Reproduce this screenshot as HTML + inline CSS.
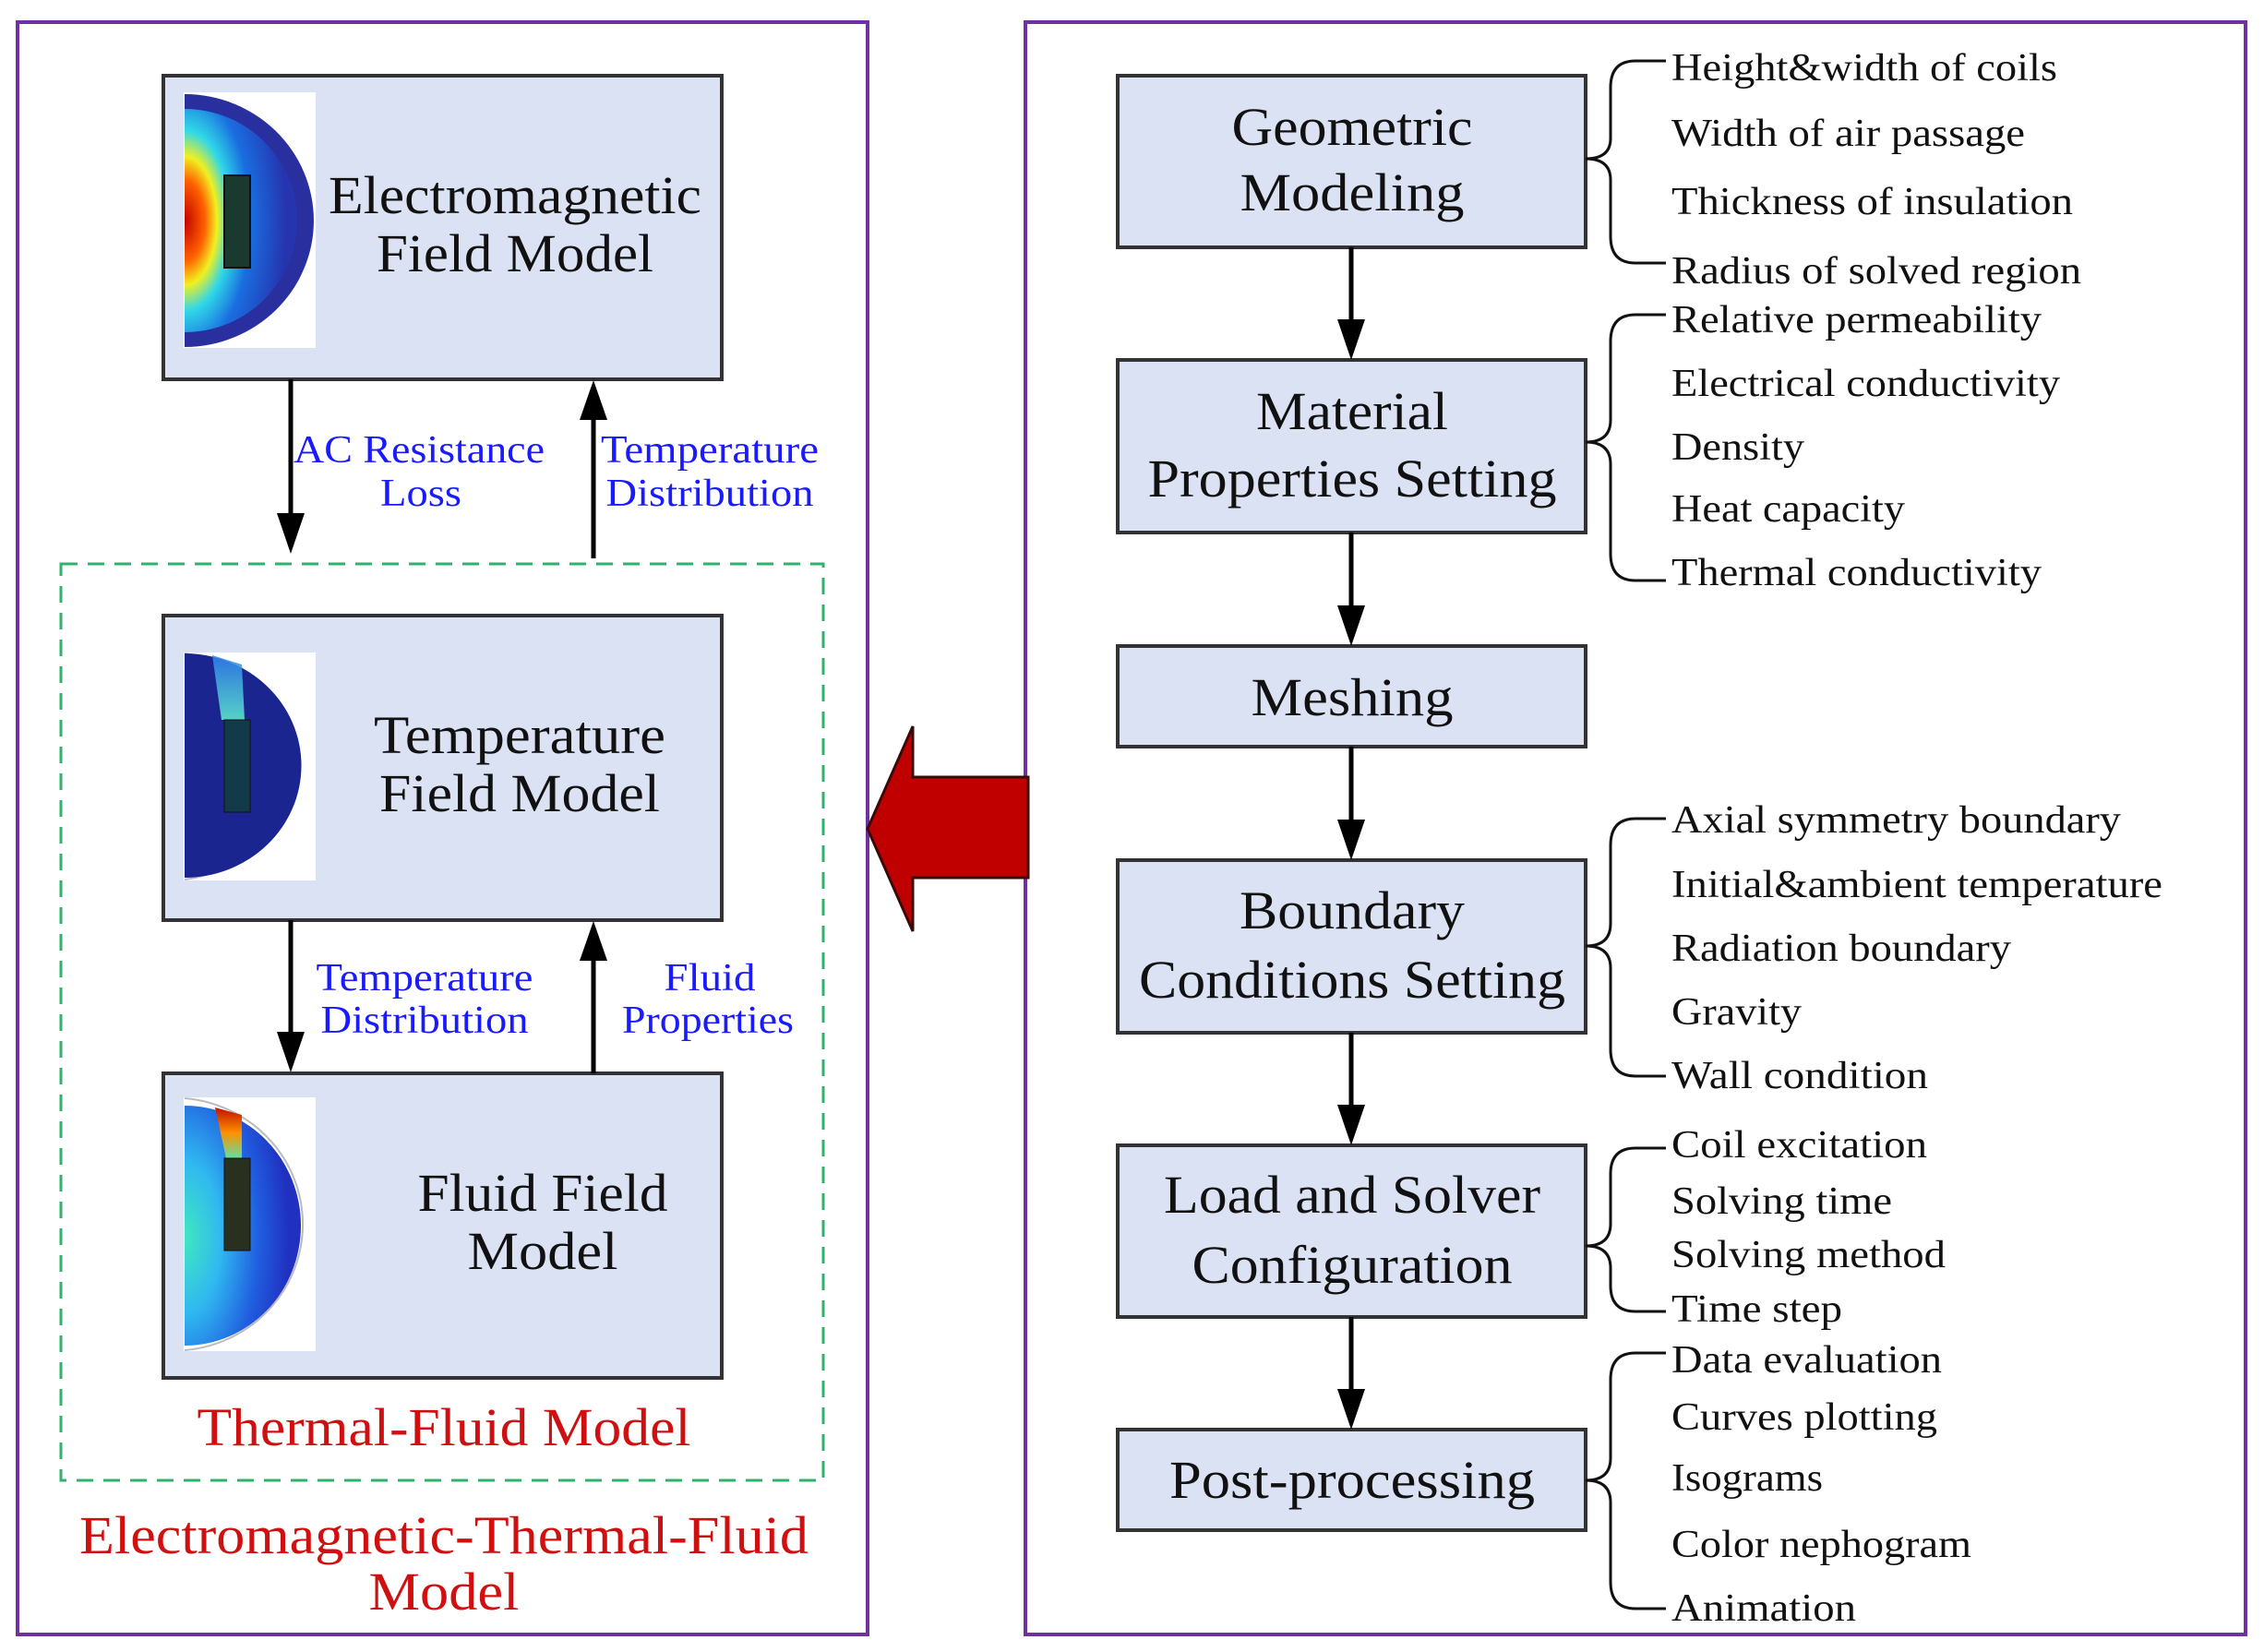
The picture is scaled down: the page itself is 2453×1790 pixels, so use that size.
<!DOCTYPE html>
<html><head><meta charset="utf-8"><style>
html,body{margin:0;padding:0;background:#fff}
svg{display:block}
text{font-family:"Liberation Serif",serif}
</style></head><body>
<svg width="2453" height="1790" viewBox="0 0 2453 1790" xmlns="http://www.w3.org/2000/svg">
<defs>
<linearGradient id="em" x1="0" y1="0" x2="1" y2="0">
<stop offset="0" stop-color="#d00000"/><stop offset="0.25" stop-color="#ff8000"/><stop offset="0.4" stop-color="#f0f020"/><stop offset="0.55" stop-color="#30e0e0"/><stop offset="0.75" stop-color="#1a70e0"/><stop offset="1" stop-color="#2030b0"/>
</linearGradient>
<radialGradient id="emr" cx="0" cy="0.5" r="0.9">
<stop offset="0" stop-color="#c00000"/><stop offset="0.2" stop-color="#ff6000"/><stop offset="0.32" stop-color="#f0f020"/><stop offset="0.45" stop-color="#30d8e8"/><stop offset="0.65" stop-color="#1a6ee0"/><stop offset="1" stop-color="#2535b0"/>
</radialGradient>
<radialGradient id="fl" cx="0" cy="0.55" r="0.9">
<stop offset="0" stop-color="#40e8c0"/><stop offset="0.35" stop-color="#30b8f0"/><stop offset="0.7" stop-color="#2060e0"/><stop offset="1" stop-color="#2030c0"/>
</radialGradient>
<linearGradient id="plume" x1="0" y1="0" x2="0" y2="1">
<stop offset="0" stop-color="#c01000"/><stop offset="0.5" stop-color="#ff9000"/><stop offset="1" stop-color="#60e0a0"/>
</linearGradient>
<linearGradient id="tplume" x1="0" y1="0" x2="0" y2="1">
<stop offset="0" stop-color="#3080f0"/><stop offset="1" stop-color="#60f0d0"/>
</linearGradient>
</defs>

<!-- outer frames -->
<rect x="19" y="24" width="921" height="1747" fill="none" stroke="#7030a0" stroke-width="4"/>
<rect x="1111" y="24" width="1322" height="1747" fill="none" stroke="#7030a0" stroke-width="4"/>

<!-- green dashed -->
<rect x="66" y="611" width="826" height="993" fill="none" stroke="#2fb36a" stroke-width="3" stroke-dasharray="18,11"/>

<!-- left boxes -->
<rect x="177" y="82" width="605" height="329" fill="#dbe2f3" stroke="#333" stroke-width="4"/>
<rect x="177" y="667" width="605" height="330" fill="#dbe2f3" stroke="#333" stroke-width="4"/>
<rect x="177" y="1163" width="605" height="330" fill="#dbe2f3" stroke="#333" stroke-width="4"/>

<!-- EM thumbnail -->
<rect x="199" y="100" width="143" height="277" fill="#fff"/>
<path d="M200,102 A140,137 0 0 1 200,376 Z" fill="#2a2fa0"/>
<path d="M200,118 A122,121 0 0 1 200,360 Z" fill="url(#emr)"/>
<rect x="243" y="190" width="28" height="100" fill="#1a3a30" stroke="#111" stroke-width="2"/>

<!-- Temp thumbnail -->
<rect x="199" y="707" width="143" height="247" fill="#fff"/>
<path d="M200,708 A140,124 0 0 1 200,953" fill="none" stroke="#bbb" stroke-width="2"/>
<path d="M200,708 A126,121 0 0 1 200,951 Z" fill="#1a2590"/>
<path d="M230,710 L262,720 L265,780 L240,780 Z" fill="url(#tplume)" opacity="0.85"/>
<rect x="243" y="780" width="28" height="100" fill="#123a48" stroke="#111" stroke-width="1"/>

<!-- Fluid thumbnail -->
<rect x="199" y="1189" width="143" height="275" fill="#fff"/>
<path d="M200,1190 A140,137 0 0 1 200,1463" fill="none" stroke="#bbb" stroke-width="2"/>
<path d="M200,1198 A126,130 0 0 1 200,1458 Z" fill="url(#fl)"/>
<path d="M233,1200 L262,1208 L262,1255 L245,1255 Z" fill="url(#plume)"/>
<rect x="243" y="1255" width="28" height="100" fill="#2a3020" stroke="#111" stroke-width="1"/>

<!-- left text -->
<g font-size="58" fill="#111" text-anchor="middle" lengthAdjust="spacingAndGlyphs">
<text x="558" y="231" textLength="404" lengthAdjust="spacingAndGlyphs">Electromagnetic</text>
<text x="558" y="294" textLength="300" lengthAdjust="spacingAndGlyphs">Field Model</text>
<text x="563" y="816" textLength="316" lengthAdjust="spacingAndGlyphs">Temperature</text>
<text x="563" y="879" textLength="304" lengthAdjust="spacingAndGlyphs">Field Model</text>
<text x="588" y="1312" textLength="271" lengthAdjust="spacingAndGlyphs">Fluid Field</text>
<text x="588" y="1375" textLength="163" lengthAdjust="spacingAndGlyphs">Model</text>
</g>

<!-- blue labels -->
<g font-size="42" fill="#1a1aff" text-anchor="middle">
<text x="454" y="501" textLength="272" lengthAdjust="spacingAndGlyphs">AC Resistance</text>
<text x="456" y="548" textLength="88" lengthAdjust="spacingAndGlyphs">Loss</text>
<text x="769" y="501" textLength="236" lengthAdjust="spacingAndGlyphs">Temperature</text>
<text x="769" y="548" textLength="225" lengthAdjust="spacingAndGlyphs">Distribution</text>
<text x="460" y="1073" textLength="235" lengthAdjust="spacingAndGlyphs">Temperature</text>
<text x="460" y="1119" textLength="225" lengthAdjust="spacingAndGlyphs">Distribution</text>
<text x="769" y="1073" textLength="99" lengthAdjust="spacingAndGlyphs">Fluid</text>
<text x="767" y="1119" textLength="186" lengthAdjust="spacingAndGlyphs">Properties</text>
</g>

<!-- red titles -->
<g font-size="58" fill="#d01010" text-anchor="middle">
<text x="481" y="1566" textLength="535" lengthAdjust="spacingAndGlyphs">Thermal-Fluid Model</text>
<text x="481" y="1683" textLength="790" lengthAdjust="spacingAndGlyphs">Electromagnetic-Thermal-Fluid</text>
<text x="481" y="1744" textLength="163" lengthAdjust="spacingAndGlyphs">Model</text>
</g>

<!-- left arrows -->
<g stroke="#000" stroke-width="5" fill="#000">
<line x1="315" y1="411" x2="315" y2="560"/>
<polygon points="300,556 330,556 315,600" stroke="none"/>
<line x1="643" y1="605" x2="643" y2="450"/>
<polygon points="628,455 658,455 643,412" stroke="none"/>
<line x1="315" y1="997" x2="315" y2="1122"/>
<polygon points="300,1118 330,1118 315,1162" stroke="none"/>
<line x1="643" y1="1163" x2="643" y2="1036"/>
<polygon points="628,1041 658,1041 643,998" stroke="none"/>
</g>

<!-- big red arrow -->
<polygon points="940,898 989,787 989,842 1114,842 1114,951 989,951 989,1009" fill="#c00000" stroke="#3a0a0a" stroke-width="3"/>

<!-- right boxes -->
<g fill="#dbe2f3" stroke="#333" stroke-width="4">
<rect x="1211" y="82" width="507" height="186"/>
<rect x="1211" y="390" width="507" height="187"/>
<rect x="1211" y="700" width="507" height="109"/>
<rect x="1211" y="932" width="507" height="187"/>
<rect x="1211" y="1241" width="507" height="186"/>
<rect x="1211" y="1549" width="507" height="109"/>
</g>
<g font-size="58" fill="#111" text-anchor="middle">
<text x="1465" y="157" textLength="261" lengthAdjust="spacingAndGlyphs">Geometric</text>
<text x="1465" y="228" textLength="243" lengthAdjust="spacingAndGlyphs">Modeling</text>
<text x="1465" y="465" textLength="208" lengthAdjust="spacingAndGlyphs">Material</text>
<text x="1465" y="538" textLength="443" lengthAdjust="spacingAndGlyphs">Properties Setting</text>
<text x="1465" y="775" textLength="219" lengthAdjust="spacingAndGlyphs">Meshing</text>
<text x="1465" y="1006" textLength="244" lengthAdjust="spacingAndGlyphs">Boundary</text>
<text x="1465" y="1081" textLength="462" lengthAdjust="spacingAndGlyphs">Conditions Setting</text>
<text x="1465" y="1314" textLength="408" lengthAdjust="spacingAndGlyphs">Load and Solver</text>
<text x="1465" y="1390" textLength="347" lengthAdjust="spacingAndGlyphs">Configuration</text>
<text x="1465" y="1623" textLength="396" lengthAdjust="spacingAndGlyphs">Post-processing</text>
</g>

<!-- right arrows -->
<g stroke="#000" stroke-width="5" fill="#000">
<line x1="1464" y1="268" x2="1464" y2="350"/><polygon points="1449,346 1479,346 1464,390" stroke="none"/>
<line x1="1464" y1="577" x2="1464" y2="660"/><polygon points="1449,656 1479,656 1464,700" stroke="none"/>
<line x1="1464" y1="809" x2="1464" y2="892"/><polygon points="1449,888 1479,888 1464,932" stroke="none"/>
<line x1="1464" y1="1119" x2="1464" y2="1201"/><polygon points="1449,1197 1479,1197 1464,1241" stroke="none"/>
<line x1="1464" y1="1427" x2="1464" y2="1509"/><polygon points="1449,1505 1479,1505 1464,1549" stroke="none"/>
</g>

<!-- braces -->
<g fill="none" stroke="#111" stroke-width="3">
<path d="M1805,66 L1772,66 Q1745,66 1745,95 L1745,150 Q1745,172 1718,172 Q1745,172 1745,195 L1745,256 Q1745,285 1772,285 L1805,285"/>
<path d="M1805,341 L1772,341 Q1745,341 1745,370 L1745,455 Q1745,479 1718,479 Q1745,479 1745,503 L1745,600 Q1745,629 1772,629 L1805,629"/>
<path d="M1805,887 L1772,887 Q1745,887 1745,916 L1745,1001 Q1745,1025 1718,1025 Q1745,1025 1745,1049 L1745,1137 Q1745,1166 1772,1166 L1805,1166"/>
<path d="M1805,1244 L1772,1244 Q1745,1244 1745,1272 L1745,1326 Q1745,1350 1718,1350 Q1745,1350 1745,1374 L1745,1393 Q1745,1421 1772,1421 L1805,1421"/>
<path d="M1805,1466 L1772,1466 Q1745,1466 1745,1495 L1745,1580 Q1745,1604 1718,1604 Q1745,1604 1745,1628 L1745,1714 Q1745,1743 1772,1743 L1805,1743"/>
</g>

<!-- lists -->
<g font-size="42" fill="#111">
<text x="1811" y="87" textLength="418" lengthAdjust="spacingAndGlyphs">Height&amp;width of coils</text>
<text x="1811" y="158" textLength="383" lengthAdjust="spacingAndGlyphs">Width of air passage</text>
<text x="1811" y="232" textLength="435" lengthAdjust="spacingAndGlyphs">Thickness of insulation</text>
<text x="1811" y="307" textLength="444" lengthAdjust="spacingAndGlyphs">Radius of solved region</text>
<text x="1811" y="360" textLength="401" lengthAdjust="spacingAndGlyphs">Relative permeability</text>
<text x="1811" y="429" textLength="421" lengthAdjust="spacingAndGlyphs">Electrical conductivity</text>
<text x="1811" y="498" textLength="144" lengthAdjust="spacingAndGlyphs">Density</text>
<text x="1811" y="565" textLength="253" lengthAdjust="spacingAndGlyphs">Heat capacity</text>
<text x="1811" y="634" textLength="401" lengthAdjust="spacingAndGlyphs">Thermal conductivity</text>
<text x="1811" y="902" textLength="487" lengthAdjust="spacingAndGlyphs">Axial symmetry boundary</text>
<text x="1811" y="972" textLength="532" lengthAdjust="spacingAndGlyphs">Initial&amp;ambient temperature</text>
<text x="1811" y="1041" textLength="368" lengthAdjust="spacingAndGlyphs">Radiation boundary</text>
<text x="1811" y="1110" textLength="141" lengthAdjust="spacingAndGlyphs">Gravity</text>
<text x="1811" y="1179" textLength="278" lengthAdjust="spacingAndGlyphs">Wall condition</text>
<text x="1811" y="1254" textLength="277" lengthAdjust="spacingAndGlyphs">Coil excitation</text>
<text x="1811" y="1315" textLength="239" lengthAdjust="spacingAndGlyphs">Solving time</text>
<text x="1811" y="1373" textLength="297" lengthAdjust="spacingAndGlyphs">Solving method</text>
<text x="1811" y="1432" textLength="185" lengthAdjust="spacingAndGlyphs">Time step</text>
<text x="1811" y="1487" textLength="293" lengthAdjust="spacingAndGlyphs">Data evaluation</text>
<text x="1811" y="1549" textLength="288" lengthAdjust="spacingAndGlyphs">Curves plotting</text>
<text x="1811" y="1615" textLength="164" lengthAdjust="spacingAndGlyphs">Isograms</text>
<text x="1811" y="1687" textLength="325" lengthAdjust="spacingAndGlyphs">Color nephogram</text>
<text x="1811" y="1756" textLength="200" lengthAdjust="spacingAndGlyphs">Animation</text>
</g>
</svg>
</body></html>
